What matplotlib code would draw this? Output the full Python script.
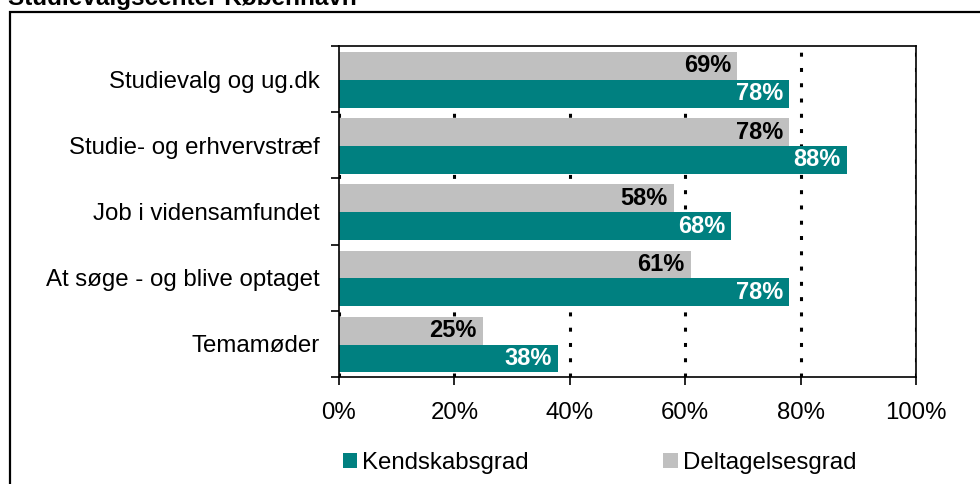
import matplotlib
matplotlib.use("Agg")
import matplotlib.pyplot as plt
from matplotlib.patches import Rectangle
from matplotlib.ticker import FixedLocator, FuncFormatter
import numpy as np

plt.rcParams['font.family'] = ['Liberation Sans', 'DejaVu Sans']

title = "Studievalgscenter København"
categories = ["Studievalg og ug.dk", "Studie- og erhvervstræf", "Job i vidensamfundet",
              "At søge - og blive optaget", "Temamøder"]
kendskab = [78, 88, 68, 78, 38]
deltagelse = [69, 78, 58, 61, 25]
series_names = ["Kendskabsgrad", "Deltagelsesgrad"]
xticks = [0, 20, 40, 60, 80, 100]

TEAL = "#008080"
GREY = "#C0C0C0"

W, H = 980, 484
fig = plt.figure(figsize=(W / 100, H / 100), dpi=100)

# outer frame
fig.patches.append(Rectangle((10 / W, -0.2), 1.5, (1 - 12 / H) + 0.2, transform=fig.transFigure,
                             fill=False, lw=1.6, edgecolor="black"))
fig.text(8 / W, 1 - 5 / H, title, fontsize=17.5, fontweight="bold", va="baseline", ha="left")

ax = fig.add_axes([339 / W, 1 - 377 / H, (916 - 339) / W, (377 - 46) / H])
y = np.arange(len(categories))
bh = 0.42
ax.barh(y - bh / 2 + 0.01, deltagelse, height=bh, color=GREY, zorder=2, label=series_names[1])
ax.barh(y + bh / 2 + 0.01, kendskab, height=bh, color=TEAL, zorder=2, label=series_names[0])

for yi, v in zip(y, deltagelse):
    ax.annotate(f"{v}%", xy=(v, yi - bh / 2 + 0.01), xytext=(-4.5, 0), textcoords="offset points",
                ha="right", va="center", fontsize=17, fontweight="bold", color="black", zorder=3)
for yi, v in zip(y, kendskab):
    ax.annotate(f"{v}%", xy=(v, yi + bh / 2 + 0.01), xytext=(-4.5, 0), textcoords="offset points",
                ha="right", va="center", fontsize=17, fontweight="bold", color="white", zorder=3)

ax.set_xlim(0, 100)
ax.set_ylim(len(categories) - 0.5, -0.5)
ax.xaxis.set_major_locator(FixedLocator(xticks))
ax.xaxis.set_major_formatter(FuncFormatter(lambda v, p: f"{v:.0f}%"))
ax.set_yticks(y)
ax.set_yticklabels(categories)
ax.set_yticks(np.arange(-0.5, len(categories), 1.0), minor=True)

ax.tick_params(axis="y", which="major", length=0, pad=14, labelsize=17.3)
ax.tick_params(axis="y", which="minor", length=6, width=1.2, direction="out")
ax.tick_params(axis="x", which="major", length=6, width=1.2, direction="out", pad=12, labelsize=17.3)

ax.set_axisbelow(True)
ax.xaxis.grid(True, linestyle=(0, (1.3, 3.7)), linewidth=2.2, color="black")
for s in ax.spines.values():
    s.set_linewidth(1.2)
    s.set_color("black")

handles, labels = ax.get_legend_handles_labels()
order = [1, 0]
fig.legend([handles[i] for i in order], [labels[i] for i in order], loc="center left",
           bbox_to_anchor=(343 / W, 1 - 463 / H), ncol=2, frameon=False, fontsize=17.3,
           handlelength=0.6, handleheight=0.6, handletextpad=0.2, columnspacing=5.6,
           borderpad=0, borderaxespad=0)

fig.savefig("out.png", dpi=100)
